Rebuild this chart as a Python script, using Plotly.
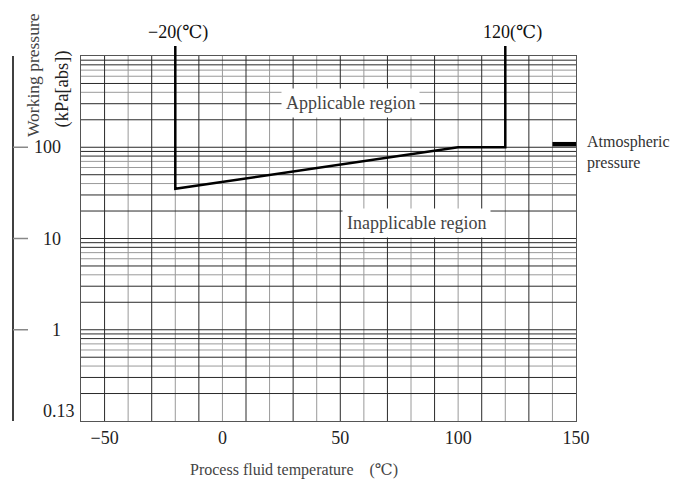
import math
import plotly.graph_objects as go

# ---------------- data ----------------
boundary_temp = [-20, -20, 100, 120, 120]      # process fluid temperature (°C)
boundary_pres = [1000, 35, 100, 100, 1000]     # working pressure (kPa abs)
atm_temp = [140, 150]
atm_pres = [108, 108]

x_tick_vals = [-50, 0, 50, 100, 150]
x_tick_text = ["−50", "0", "50", "100", "150"]
y_label_vals = [100, 10, 1, 0.13]
y_label_text = ["100", "10", "1", "0.13"]
y_axis_ticks = [100, 10, 1]
limit_temps = [-20, 120]
limit_labels = ["−20(℃)", "120(℃)"]

X_MIN, X_MAX = -60, 150
Y_MIN, Y_MAX = 0.1, 1000

x_grid_dark = [-50, -30, -10, 10, 30, 50, 70, 90, 110, 130]
x_grid_gray = [-40, -20, 0, 20, 40, 60, 80, 100, 120, 140]
decades = [0.1, 1, 10, 100]
gray_mult = [4, 6, 7]

# ---------------- layout geometry ----------------
OFF = 8                      # page body margin
W, H = 677, 478
ML, MT = 73, 48
PW, PH = 495, 365
MR, MB = W - ML - PW, H - MT - PH

FONT = "Liberation Serif, DejaVu Serif, serif"


def px_x(px):
    return (px - OFF - ML) / PW


def px_y(py):
    return 1 - (py - OFF - MT) / PH


def val_y(v):
    return (math.log10(v) - math.log10(Y_MIN)) / (math.log10(Y_MAX) - math.log10(Y_MIN))


fig = go.Figure()


def add_grid(xs, ys, color):
    fig.add_trace(go.Scatter(x=xs, y=ys, mode="lines", hoverinfo="skip",
                             line=dict(color=color, width=1), showlegend=False))


vx_d, vy_d, vx_g, vy_g = [], [], [], []
for g in x_grid_dark:
    vx_d += [g, g, None]
    vy_d += [Y_MIN, Y_MAX, None]
for g in x_grid_gray:
    vx_g += [g, g, None]
    vy_g += [Y_MIN, Y_MAX, None]
hx_d, hy_d, hx_g, hy_g = [], [], [], []
for d in decades:
    for m in range(1, 10):
        v = m * d
        if v <= Y_MIN:
            continue
        if m in gray_mult:
            hx_g += [X_MIN, X_MAX, None]
            hy_g += [v, v, None]
        else:
            hx_d += [X_MIN, X_MAX, None]
            hy_d += [v, v, None]
add_grid(vx_g, vy_g, "#9a9a9a")
add_grid(hx_g, hy_g, "#9a9a9a")
add_grid(vx_d, vy_d, "#2a2a2a")
add_grid(hx_d, hy_d, "#2a2a2a")

# boundary curve
fig.add_trace(go.Scatter(x=boundary_temp, y=boundary_pres, mode="lines",
                         line=dict(color="black", width=2.5), showlegend=False,
                         hoverinfo="skip"))
# atmospheric pressure bar
fig.add_trace(go.Scatter(x=atm_temp, y=atm_pres, mode="lines",
                         line=dict(color="black", width=4.5), showlegend=False,
                         hoverinfo="skip"))

shapes = []
for t in limit_temps:
    shapes.append(dict(type="line", xref="x", yref="paper", x0=t, x1=t,
                       y0=1, y1=1 + 10 / PH, line=dict(color="black", width=2.5)))
ax_x = px_x(13)
shapes.append(dict(type="line", xref="paper", yref="paper", x0=ax_x, x1=ax_x,
                   y0=0, y1=1, line=dict(color="black", width=1.5)))
for v in y_axis_ticks:
    shapes.append(dict(type="line", xref="paper", yref="paper", x0=ax_x, x1=px_x(28),
                       y0=val_y(v), y1=val_y(v), line=dict(color="#888", width=1.5)))

annotations = []
for v, t in zip(y_label_vals, y_label_text):
    right = 77 if v < 1 else 63
    annotations.append(dict(text=t, xref="paper", yref="paper", x=px_x(right),
                            y=val_y(v), xanchor="right", yanchor="middle",
                            showarrow=False, font=dict(size=18, family=FONT, color="#222")))
for t, lab in zip(limit_temps, limit_labels):
    annotations.append(dict(text=lab, xref="x", yref="paper", x=t, y=px_y(32),
                            xanchor="center", yanchor="middle", xshift=3 if t < 0 else 7,
                            showarrow=False, font=dict(size=18, family=FONT, color="#111")))
annotations += [
    dict(text="Working pressure", xref="paper", yref="paper", x=px_x(33), y=px_y(139),
         xanchor="center", yanchor="bottom", textangle=-90, showarrow=False,
         font=dict(size=17.5, family=FONT, color="#444")),
    dict(text="(kPa[abs])", xref="paper", yref="paper", x=px_x(62), y=px_y(130),
         xanchor="center", yanchor="bottom", textangle=-90, showarrow=False,
         font=dict(size=18.5, family=FONT, color="#222")),
    dict(text="Applicable region", xref="paper", yref="paper", x=px_x(350), y=px_y(103),
         xanchor="center", yanchor="middle", showarrow=False, bgcolor="white", borderpad=4,
         font=dict(size=18, family=FONT, color="#444")),
    dict(text="Inapplicable region", xref="paper", yref="paper", x=px_x(416), y=px_y(223),
         xanchor="center", yanchor="middle", showarrow=False, bgcolor="white", borderpad=4,
         font=dict(size=18, family=FONT, color="#444")),
    dict(text="Atmospheric<br>pressure", xref="paper", yref="paper", x=px_x(585), y=px_y(152.5),
         xanchor="left", yanchor="middle", align="left", showarrow=False,
         font=dict(size=16, family=FONT, color="#333")),
    dict(text="Process fluid temperature　(℃)", xref="paper", yref="paper", x=px_x(294),
         y=px_y(470), xanchor="center", yanchor="middle", showarrow=False,
         font=dict(size=16, family=FONT, color="#444")),
]

fig.update_layout(
    width=W, height=H,
    margin=dict(l=ML, r=MR, t=MT, b=MB),
    paper_bgcolor="white", plot_bgcolor="white",
    shapes=shapes, annotations=annotations,
    showlegend=False,
    xaxis=dict(range=[X_MIN, X_MAX], showgrid=False, zeroline=False,
               showline=True, mirror=True, linecolor="#555", linewidth=1,
               tickmode="array", tickvals=x_tick_vals, ticktext=x_tick_text, ticks="",
               tickfont=dict(size=18, family=FONT, color="#222")),
    yaxis=dict(type="log", range=[math.log10(Y_MIN), math.log10(Y_MAX)],
               showgrid=False, zeroline=False, showticklabels=False, ticks="",
               showline=True, mirror=True, linecolor="#555", linewidth=1),
)

fig.write_html("out.html")
